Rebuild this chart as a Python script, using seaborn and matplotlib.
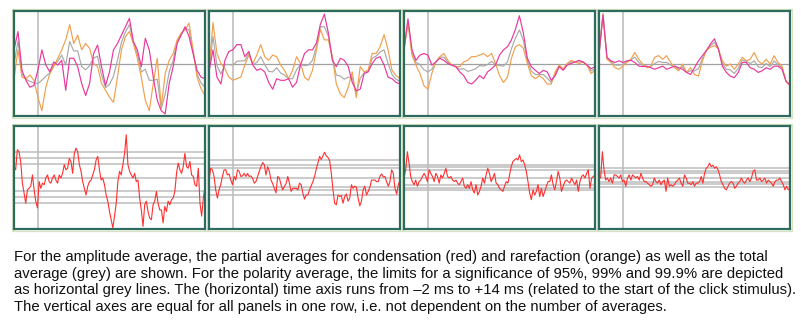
import numpy as np
import pandas as pd
import matplotlib
matplotlib.use("Agg")
import matplotlib.pyplot as plt
import seaborn as sns
from matplotlib.patches import Rectangle

# ---------------- data ----------------
time_ms = np.linspace(-2, 14, 49)    # amplitude traces: time axis -2 ms .. +14 ms
pol_time_ms = np.linspace(-2, 14, 115)  # polarity traces sampled more finely

# amplitude averages, top row (values in % of half the axis height)
cond_1 = [26, 61, -13, -32, -45, -42, -13, 26, -3, -16, 3, -3, 6, -51, 10, 10, -6, -38, -61, -38, 19, 35, -6, -42, -16,
          26, 38, 54, 70, 86, 42, 26, -6, 48, 26, -26, -70, -90, -96, -38, -6, 38, 54, 70, 51, 19, -13, -26, -29]
rare_1 = [-29, 26, -26, -29, -22, -32, -64, -90, -45, -19, -6, 10, 26, 45, 74, 38, 54, 26, 38, 29, 0, -6, -38, -51, -64,
          -74, -26, 26, 51, 61, 38, 10, -26, -70, -90, -38, 10, -83, -19, 6, 19, 45, 58, 64, 77, 26, -26, -48, -61]
total_1 = [-2, 43, -20, -30, -34, -37, -38, -32, -24, -18, -2, 4, 16, -3, 42, 24, 24, -6, -12, -4, 10, 14, -22, -46, -40,
           -24, 6, 40, 60, 74, 40, 18, -16, -11, -32, -32, -30, -86, -58, -16, 6, 42, 56, 67, 64, 22, -20, -37, -45]

cond_2 = [-16, 26, -26, -39, 6, 23, 26, 36, 36, 13, 23, -3, -13, -10, -16, -36, -49, -29, -32, -32, -29, -45, -36, -3, 19,
          26, 26, 39, 75, 94, 58, 6, -6, 10, 6, -6, -36, -52, -49, -19, -16, 0, 10, 13, -3, -26, -29, -36, -39]
rare_2 = [-13, 78, 19, 0, -10, -26, -32, -29, -26, -3, 16, 0, 16, 36, 13, 6, 16, 13, -3, -13, -29, -13, 13, 0, -26,
          -32, -13, 26, 65, 45, 45, 13, -39, -58, -65, -45, -16, -65, -6, -16, -13, 19, 19, 32, 55, 26, -13, -23, -29]
total_2 = [-14, 52, -4, -20, -2, -2, -3, 4, 5, 5, 20, -2, 2, 13, -2, -15, -16, -8, -18, -22, -29, -29, -12, -2, -4,
           -3, 6, 32, 70, 70, 52, 10, -22, -24, -30, -26, -26, -58, -28, -18, -14, 10, 14, 22, 26, 0, -21, -30, -34]

cond_3 = [26, 85, 26, 6, 16, 19, 16, -3, 3, 10, 6, 0, -3, -6, -16, -23, -36, -39, -32, -23, -29, -16, -10, -3, 16,
          26, 32, 45, 65, 91, 58, 10, -6, -13, -19, -13, -16, -32, -23, -6, -13, -3, 0, 3, 6, 3, -3, -10, -6]
rare_3 = [26, 78, 16, -3, -19, -42, -49, -19, 3, 13, 19, 6, -3, -6, -6, 3, 6, 13, 13, 16, 19, 13, 19, 0, -23,
          -36, -26, 10, 32, 36, 29, 0, -23, -29, -23, -29, -39, -39, -16, -3, -10, 0, 6, 3, 0, 3, -3, -19, -13]
total_3 = [26, 82, 21, 2, -2, -12, -16, -11, 3, 12, 12, 3, -3, -6, -11, -10, -15, -13, -10, -4, -5, -2, 4, -2, -4,
           -5, 3, 28, 48, 64, 44, 5, -14, -21, -21, -21, -28, -36, -20, -4, -12, -2, 3, 3, 3, 3, -3, -14, -10]

cond_4 = [18, 92, 12, 5, 2, 5, 2, 5, 6, 2, -5, -6, -5, -8, -11, -8, -5, -11, -8, -5, -8, -11, -17, -21, -8,
          5, 15, 25, 37, 47, 28, -5, -17, -24, -27, -17, 2, 2, -8, -11, -17, -14, -8, -11, -5, -5, -11, -34, -40]
rare_4 = [18, 95, 8, 2, -8, -11, -5, 2, 8, 21, 8, -1, -8, -5, 12, 15, 8, 15, 2, -8, -14, -1, -17, -8, -21,
          -24, 5, 25, 31, 34, 28, 5, -5, -1, -11, -1, 12, 5, 8, 21, 5, -1, 8, -1, 15, 2, -5, -34, -43]
total_4 = [18, 94, 10, 4, -3, -3, -2, 4, 7, 12, 2, -4, -6, -6, 0, 4, 2, 2, -3, -6, -11, -6, -17, -14, -14,
           -10, 10, 25, 34, 40, 28, 0, -11, -12, -19, -9, 7, 4, 0, 5, -6, -8, 0, -6, 5, -2, -8, -34, -42]

# polarity averages, bottom row
polarity_1 = [21, 15, 54, 50, 31, -11, -30, -50, -24, -21,
              -17, 5, -24, -46, -59, -8, -21, -11, -14, -1,
              5, -8, -11, -1, 5, -5, -11, 5, -1, 8,
              25, 15, 18, 37, 31, 8, 47, 57, 50, 25,
              12, -8, -21, -34, -17, -8, -5, 5, 15, 34,
              41, 15, -5, -1, -14, -34, -46, -66, -82, -98,
              -75, -50, -8, 12, 5, 25, 47, 83, 25, 12,
              5, -1, 8, -8, -5, -40, -63, -95, -53, -46,
              -66, -79, -82, -53, -46, -27, -50, -63, -63, -88,
              -56, -66, -46, -53, -43, -40, -27, 8, 28, 15,
              8, 21, 47, 21, 18, 31, 5, 2, -14, -17,
              18, -50, -75, -40, -17]
polarity_2 = [-8, 18, 15, 2, -24, -40, -24, -14, 2, 15,
              15, 5, 7, -5, -14, 2, -5, 15, 12, 2,
              3, 8, 2, 8, 2, 3, -1, -11, -8, 2,
              12, 21, 29, 25, 5, 21, 12, -5, -12, -21,
              -30, 2, -1, -14, -24, -17, -12, 2, -11, -27,
              -21, -21, -21, -24, -11, -14, -30, -42, -34, -34,
              -24, -16, -8, 2, 16, 28, 41, 35, 42, 49,
              42, 39, 33, 8, -24, -50, -53, -34, -37, -35,
              -50, -37, -32, -46, -40, -14, -21, -17, -19, -40,
              -55, -46, -24, -17, -34, -27, -19, -5, -5, -5,
              -8, -8, 2, 7, 1, 2, -8, -17, -8, 15,
              8, -21, -32, -14, -5]
polarity_3 = [-1, 15, 50, 28, 2, -8, -14, -5, -17, -8,
              -5, 2, 8, 2, -8, 15, 8, 2, -8, 8,
              2, -11, 5, -1, 8, 18, 2, -1, 2, -5,
              -8, -5, -11, -14, -8, -1, -17, -21, -14, -21,
              -8, -24, -30, -14, -34, -27, -17, -1, -11, 5,
              18, 8, -8, -1, 8, -11, -14, -21, -24, -27,
              -17, -8, -11, 5, 21, 31, 34, 37, 34, 44,
              31, 34, 25, 12, -8, -30, -43, -24, -34, -27,
              -14, -37, -21, -37, -27, -17, -8, -8, 5, -14,
              -24, -8, 12, -1, -27, -17, -8, -5, -8, -11,
              -1, -8, -14, -5, -27, -8, 2, 5, -1, 8,
              15, -21, -1, 2, 5]
polarity_4 = [2, -1, 50, 15, -5, -1, -8, -1, -11, 5,
              5, 2, -1, 5, -8, -5, -17, -1, 5, -5,
              5, 2, -1, 2, -5, 8, -1, -8, -8, -11,
              -14, -17, -14, -1, -8, -11, -5, -14, -8, -5,
              -27, -1, -17, -14, -17, -14, -8, -5, -1, -11,
              -17, 5, -1, -11, -11, -14, -8, -17, -11, -11,
              -8, 2, -11, 8, 18, 21, 28, 21, 24, 18,
              21, 15, 5, -8, -14, -21, -24, -17, -11, -8,
              -11, -21, -17, -11, -8, -1, -8, -11, -5, -1,
              -8, -1, 12, 15, -5, -5, -1, -8, -5, -1,
              -11, -5, -8, -11, -17, -8, -5, -5, -1, -8,
              -14, -24, -17, -24, -21]

# significance limits 95 %, 99 %, 99.9 % for each polarity panel
limits_1 = [26, 37, 50]
limits_2 = [18, 25, 34]
limits_3 = [14, 20, 25]
limits_4 = [9, 13, 18]

series_names = ["total", "rarefaction", "condensation"]
series_colors = {"total": "#a9a9a9", "rarefaction": "#f0a04e", "condensation": "#e8389c"}

caption_lines = [
    "For the amplitude average, the partial averages for condensation (red) and rarefaction (orange) as well as the total",
    "average (grey) are shown. For the polarity average, the limits for a significance of 95%, 99% and 99.9% are depicted",
    "as horizontal grey lines. The (horizontal) time axis runs from \u20132 ms to +14 ms (related to the start of the click stimulus).",
    "The vertical axes are equal for all panels in one row, i.e. not dependent on the number of averages.",
]

amp_panels = [(cond_1, rare_1, total_1), (cond_2, rare_2, total_2),
              (cond_3, rare_3, total_3), (cond_4, rare_4, total_4)]
pol_panels = [polarity_1, polarity_2, polarity_3, polarity_4]
lim_panels = [limits_1, limits_2, limits_3, limits_4]

# ---------------- figure ----------------
sns.set_style("white")
plt.rcParams["font.family"] = ["Liberation Sans", "DejaVu Sans"]

W, H = 801, 336
fig = plt.figure(figsize=(W / 100, H / 100), dpi=100)
fig.patch.set_facecolor("white")

col_left = [14, 209, 404, 599]
panel_w = 191
rows = [(11, 116), (126, 229)]
frame_col = "#2c6b5d"
glow_col = "#d7e3bf"


def make_ax(x0, y_top, y_bot):
    ax = fig.add_axes([x0 / W, 1 - y_bot / H, panel_w / W, (y_bot - y_top) / H])
    ax.set_xlim(-2, 14)
    ax.set_ylim(-100, 100)
    ax.set_xticks([])
    ax.set_yticks([])
    for s in ax.spines.values():
        s.set_color(frame_col)
        s.set_linewidth(1.6)
        s.set_zorder(10)
    hpx = y_bot - y_top
    dx, dy = 2.2 / panel_w, 2.2 / hpx
    ax.add_patch(Rectangle((-dx, -dy), 1 + 2 * dx, 1 + 2 * dy, transform=ax.transAxes,
                           fill=False, ec=glow_col, lw=0.9, clip_on=False, zorder=9))
    return ax


for i in range(4):
    # top row: amplitude averages
    ax = make_ax(col_left[i], *rows[0])
    ax.axhline(0, color="#a0a0a0", lw=0.9, zorder=1)
    ax.axvline(0, color="#c4c4c4", lw=1.3, zorder=1)
    cond, rare, total = amp_panels[i]
    df = pd.DataFrame({
        "t": np.concatenate([time_ms] * 3),
        "v": np.concatenate([total, rare, cond]),
        "series": np.repeat(series_names, len(time_ms)),
    })
    sns.lineplot(data=df, x="t", y="v", hue="series", palette=series_colors,
                 hue_order=series_names, estimator=None, sort=False, lw=0.85,
                 legend=False, ax=ax, zorder=3)
    ax.set_xlabel("")
    ax.set_ylabel("")

    # bottom row: polarity averages
    ax = make_ax(col_left[i], *rows[1])
    ax.axvline(0, color="#c4c4c4", lw=1.3, zorder=1)
    ax.axhline(0, color="#bdbdbd", lw=1.1, zorder=1)
    for lim in lim_panels[i]:
        ax.axhline(lim, color="#bdbdbd", lw=1.1, zorder=1)
        ax.axhline(-lim, color="#bdbdbd", lw=1.1, zorder=1)
    dfp = pd.DataFrame({"t": pol_time_ms, "v": pol_panels[i]})
    sns.lineplot(data=dfp, x="t", y="v", color="#ff3030", estimator=None, sort=False,
                 lw=0.8, ax=ax, zorder=3)
    ax.set_xlabel("")
    ax.set_ylabel("")

# caption
baselines = [261, 277.7, 294.4, 311]
for line, b in zip(caption_lines, baselines):
    fig.text(14 / W, 1 - b / H, line, ha="left", va="baseline", fontsize=10.7, color="#111111")

fig.savefig("out.png", dpi=100, facecolor="white")
